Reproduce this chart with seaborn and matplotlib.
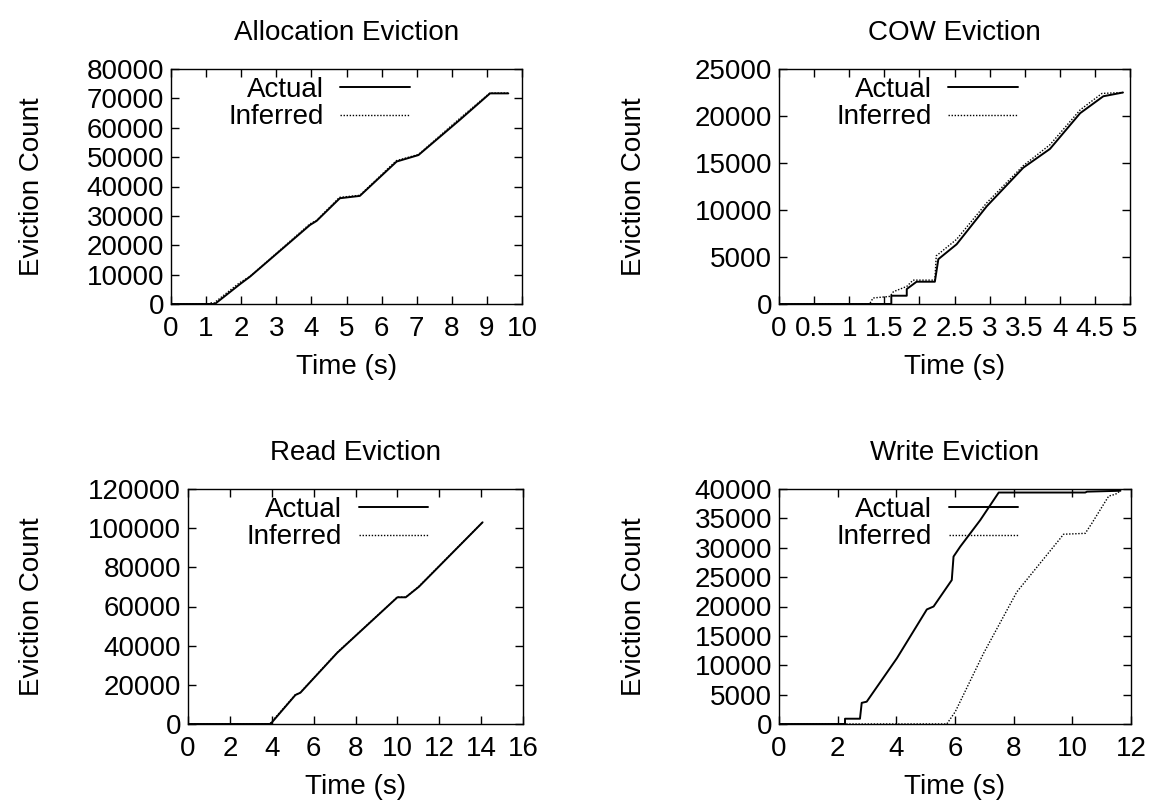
import matplotlib
matplotlib.use("Agg")
import matplotlib.pyplot as plt
from matplotlib.ticker import FixedLocator, FuncFormatter
import seaborn as sns
import pandas as pd

# ---------------- data ----------------
alloc_act_t = [0, 1.25, 1.97, 2.25, 3.96, 4.15, 4.81, 5.38, 6.43, 7.05, 8.23, 9.09, 9.61]
alloc_act_v = [0, 0, 6800, 9300, 26900, 28300, 36000, 36800, 48500, 50700, 62700, 71700, 71700]
alloc_inf_t = [0, 1.05, 1.15, 1.22, 1.95, 2.25, 3.95, 4.15, 4.80, 5.38, 6.42, 7.05, 8.22, 9.08, 9.61]
alloc_inf_v = [0, 0, 400, 300, 7200, 9400, 27200, 28500, 36300, 37000, 48800, 50900, 63100, 71800, 71800]

cow_act_t = [0, 1.60, 1.60, 1.82, 1.82, 1.96, 2.22, 2.27, 2.53, 2.96, 3.48, 3.86, 4.29, 4.62, 4.90]
cow_act_v = [0, 0, 880, 880, 1590, 2370, 2370, 4770, 6350, 10400, 14500, 16500, 20300, 22100, 22500]
cow_inf_t = [0, 1.29, 1.34, 1.58, 1.63, 1.82, 1.91, 2.22, 2.24, 2.53, 2.96, 3.48, 3.86, 4.29, 4.60, 4.90]
cow_inf_v = [0, 0, 640, 810, 1310, 1870, 2540, 2540, 5120, 6880, 10770, 14720, 16940, 20650, 22400, 22500]

read_act_t = [0, 3.94, 5.13, 5.37, 7.13, 10.0, 10.4, 11.03, 14.07]
read_act_v = [0, 0, 14800, 16000, 36400, 64700, 64700, 70100, 103000]
read_inf_t = [0, 3.90, 5.12, 5.36, 7.12, 10.0, 10.4, 11.02, 14.07]
read_inf_v = [0, 0, 14900, 16100, 36500, 64800, 64700, 70200, 103100]

write_act_t = [0, 2.25, 2.25, 2.76, 2.82, 2.99, 4.02, 5.04, 5.27, 5.89, 5.95, 6.18, 6.86, 7.49, 10.44, 10.5, 11.64]
write_act_v = [0, 0, 900, 900, 3600, 3800, 11200, 19500, 20000, 24500, 28500, 30200, 34700, 39400, 39400, 39550, 39700]
write_inf_t = [0, 5.72, 6.01, 6.97, 8.11, 9.59, 9.70, 10.44, 10.67, 11.24, 11.47, 11.64]
write_inf_v = [0, 0, 2100, 12000, 22500, 31600, 32300, 32450, 34200, 38800, 39100, 39700]

titles = ["Allocation Eviction", "COW Eviction", "Read Eviction", "Write Eviction"]
series_labels = ["Actual", "Inferred"]
x_label = "Time (s)"
y_label = "Eviction Count"

x_ticks = [list(range(0, 11)), [i * 0.5 for i in range(11)], list(range(0, 17, 2)), list(range(0, 13, 2))]
y_ticks = [list(range(0, 80001, 10000)), list(range(0, 25001, 5000)),
           list(range(0, 120001, 20000)), list(range(0, 40001, 5000))]

panels = [
    (alloc_act_t, alloc_act_v, alloc_inf_t, alloc_inf_v),
    (cow_act_t, cow_act_v, cow_inf_t, cow_inf_v),
    (read_act_t, read_act_v, read_inf_t, read_inf_v),
    (write_act_t, write_act_v, write_inf_t, write_inf_v),
]

# ---------------- style ----------------
sns.set_theme(style="ticks")
plt.rcParams['font.family'] = ['Liberation Sans', 'DejaVu Sans']
plt.rcParams['text.color'] = 'black'
plt.rcParams['axes.labelcolor'] = 'black'
FS = 20

W, H = 1151, 808
fig = plt.figure(figsize=(W / 100, H / 100), dpi=100)

# axes boxes in pixels (left, top, right, bottom)
boxes = [(171, 69, 522, 304), (779, 69, 1130, 304), (188, 489, 523, 724), (779, 489, 1131, 724)]
legend_x = [0.68, 0.68, 0.717, 0.68]
ylab_x = [45, 647, 45, 647]

fmt = FuncFormatter(lambda v, p: "%g" % v)

for i, (at, av, it, iv) in enumerate(panels):
    l, t, r, b = boxes[i]
    ax = fig.add_axes([l / W, (H - b) / H, (r - l) / W, (b - t) / H])
    df_a = pd.DataFrame({"t": at, "v": av})
    df_i = pd.DataFrame({"t": it, "v": iv})
    sns.lineplot(data=df_a, x="t", y="v", ax=ax, color="black", linewidth=1.4,
                 sort=False, estimator=None, label=series_labels[0])
    sns.lineplot(data=df_i, x="t", y="v", ax=ax, color="black", linewidth=1.0,
                 linestyle=(0, (1, 1.2)), sort=False, estimator=None, label=series_labels[1])
    ax.set_xlim(x_ticks[i][0], x_ticks[i][-1])
    ax.set_ylim(y_ticks[i][0], y_ticks[i][-1])
    ax.xaxis.set_major_locator(FixedLocator(x_ticks[i]))
    ax.yaxis.set_major_locator(FixedLocator(y_ticks[i]))
    ax.xaxis.set_major_formatter(fmt)
    ax.yaxis.set_major_formatter(fmt)
    ax.tick_params(direction="in", length=6, width=1, top=True, right=True,
                   labelsize=FS, colors="black")
    ax.tick_params(axis="x", pad=9)
    ax.tick_params(axis="y", pad=5)
    for s in ax.spines.values():
        s.set_linewidth(1.0)
        s.set_color("black")
    ax.set_title(titles[i], fontsize=FS, pad=21, color="black")
    ax.set_xlabel(x_label, fontsize=FS)
    ax.set_ylabel(y_label, fontsize=FS)
    ax.yaxis.set_label_coords((ylab_x[i] - l) / (r - l), 0.5)
    ax.xaxis.set_label_coords(0.5, -50 / (b - t))
    leg = ax.legend(loc="upper right", bbox_to_anchor=(legend_x[i], 0.966), frameon=False,
                    markerfirst=False, fontsize=FS, handlelength=2.5, handletextpad=0.6,
                    labelspacing=0.05, borderpad=0, borderaxespad=0)
    ax.grid(False)

fig.savefig("out.png", dpi=100, facecolor="white")
